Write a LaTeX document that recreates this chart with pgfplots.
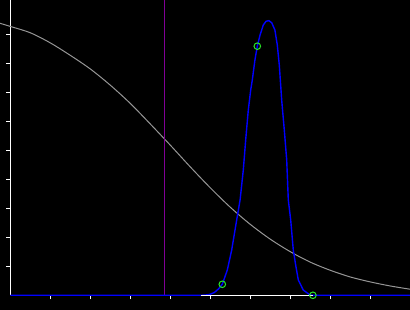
\documentclass[border=0pt]{standalone}
\usepackage{pgfplots}
\pgfplotsset{compat=1.18}
\definecolor{grayc}{RGB}{150,150,150}
\definecolor{purp}{RGB}{128,0,150}
\definecolor{greenc}{RGB}{40,230,40}
\definecolor{bluec}{RGB}{0,0,255}
\begin{document}
\begin{tikzpicture}
\fill[black] (0,-14.7pt) rectangle (410pt,295.3pt);
\begin{axis}[
  at={(0,0)}, anchor=south west,
  scale only axis, width=410pt, height=295.3pt,
  xmin=-0.2625, xmax=9.9875, ymin=0, ymax=1.0183,
  axis lines=middle,
  axis line style={-, white, line width=1.2pt},
  x axis line style={draw=none},
  xtick={1,2,3,4,5,6,7,8,9}, ytick={0.1,0.2,0.3,0.4,0.5,0.6,0.7,0.8,0.9},
  xticklabels={}, yticklabels={},
  tick align=outside, major tick length=4pt,
  tick style={white, line width=1.2pt},
  clip=false,
]
% gray decreasing curve
\addplot[grayc, line width=1pt, smooth] coordinates {
(-0.2625,0.938) (0,0.927) (0.5,0.905) (1,0.870) (1.5,0.827) (2,0.780) (2.5,0.724) (3,0.661) (3.5,0.590)
(4,0.517) (4.5,0.442) (5,0.370) (5.5,0.303) (6,0.244) (6.5,0.193) (7,0.150) (7.5,0.114) (8,0.086)
(8.5,0.063) (9,0.046) (9.5,0.032) (9.9875,0.021)
};
% purple vertical line
\addplot[purp, line width=1.1pt] coordinates {(3.845,0) (3.845,1.0183)};
% blue peak
\addplot[bluec, line width=1.4pt] coordinates {
(0,0) (4.76,0) (4.88,0.001) (4.99,0.0034) (5.10,0.010) (5.20,0.022) (5.295,0.038) (5.42,0.087) (5.53,0.156)
(5.655,0.260) (5.74,0.329) (5.82,0.432) (5.88,0.536) (5.945,0.639) (6.005,0.708) (6.045,0.742) (6.11,0.811)
(6.17,0.859) (6.24,0.898) (6.32,0.932) (6.39,0.945) (6.46,0.947) (6.53,0.940) (6.61,0.915) (6.67,0.863) (6.72,0.794)
(6.78,0.673) (6.845,0.570) (6.905,0.467) (6.945,0.329) (7.005,0.260) (7.07,0.156) (7.13,0.104) (7.195,0.053)
(7.32,0.018) (7.49,0.001) (7.56,0) (9.9875,0)
};
% white range segment
\addplot[white, line width=1.4pt] coordinates {(4.76,0) (7.56,0)};
% green markers
\addplot[only marks, mark=o, mark size=3.3pt, mark options={greenc, line width=1pt}] coordinates {
(5.295,0.038) (6.17,0.859) (7.56,0)
};
\end{axis}
\pgfresetboundingbox
\useasboundingbox (0,-14.7pt) rectangle (410pt,295.3pt);
\end{tikzpicture}
\end{document}
